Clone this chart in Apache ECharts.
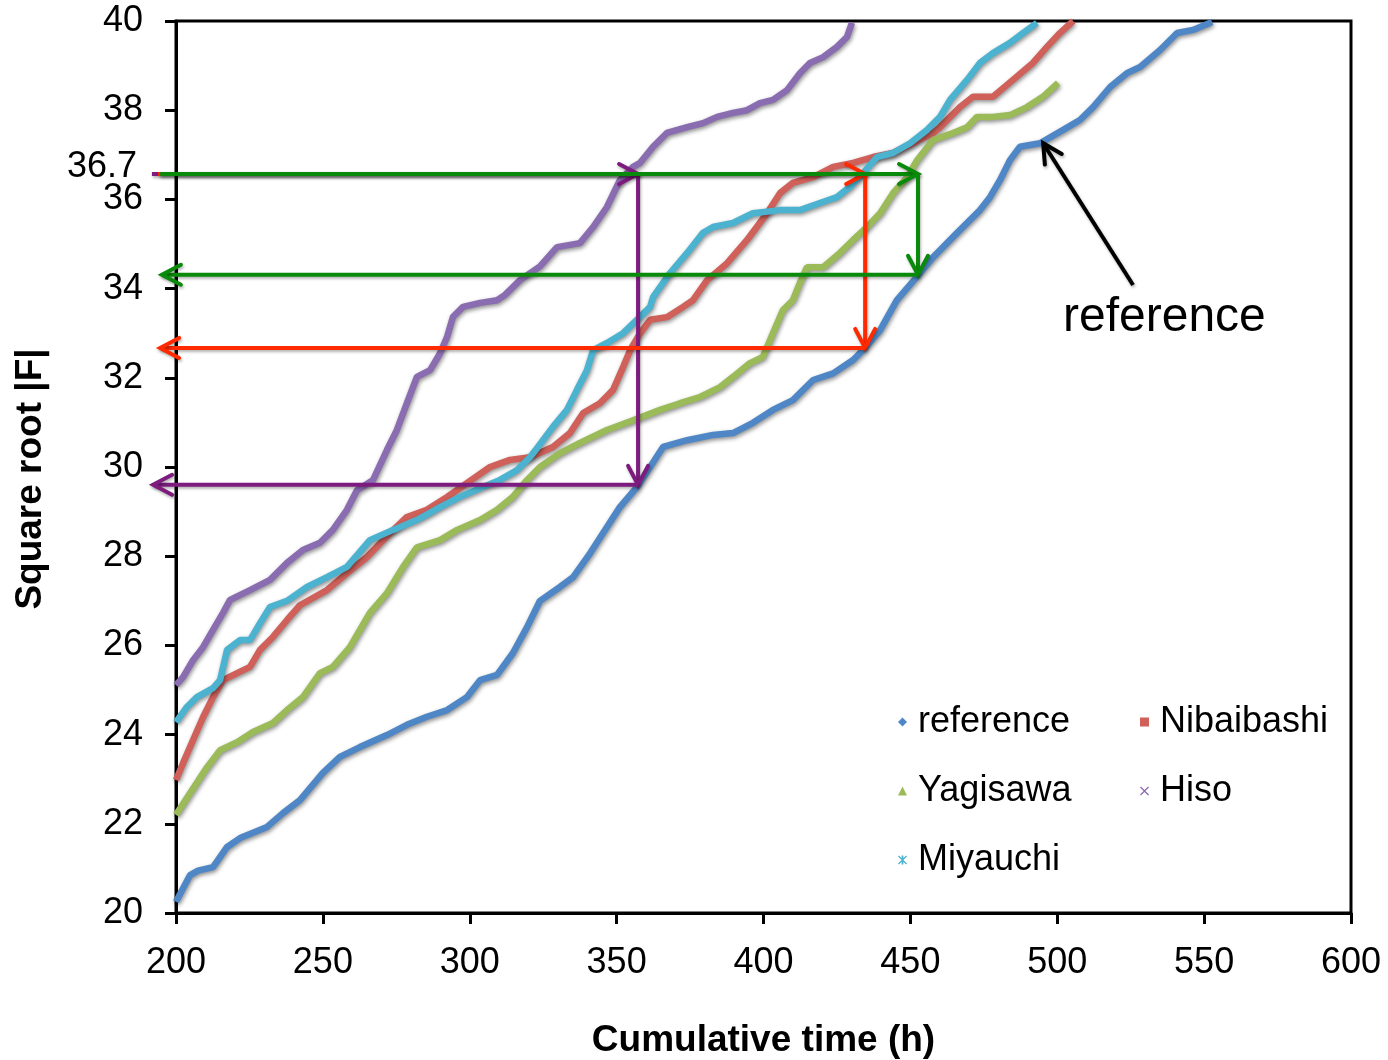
<!DOCTYPE html>
<html>
<head>
<meta charset="utf-8">
<script src="https://cdn.jsdelivr.net/npm/echarts@6/dist/echarts.min.js"></script>
<style>
html,body{margin:0;padding:0;background:#fff;}
#chart{width:1388px;height:1060px;}
</style>
</head>
<body>
<div id="chart"></div>
<script>
// ---------- data ----------
const seriesNames = ['reference', 'Nibaibashi', 'Yagisawa', 'Hiso', 'Miyauchi'];
const xTicks = [200, 250, 300, 350, 400, 450, 500, 550, 600];
const yTicks = [20, 22, 24, 26, 28, 30, 32, 34, 36, 38, 40];

const referenceData = [[200,20.25],[204.8,20.85],[207.5,20.95],[212.6,21.03],[217.4,21.48],[221.8,21.68],[231,21.93],[236.4,22.24],[242.2,22.53],[250,23.14],[255.8,23.5],[262.6,23.72],[271.8,23.99],[278.6,24.22],[285.4,24.4],[292.3,24.55],[299,24.84],[303.5,25.22],[309.3,25.34],[314.7,25.83],[319.5,26.41],[323.9,27.0],[330.7,27.31],[335.2,27.53],[341,28.07],[345.4,28.52],[351.1,29.1],[356.9,29.55],[361.4,30.0],[365.8,30.45],[374,30.6],[382.8,30.72],[389.6,30.76],[396.4,30.99],[403.2,31.28],[410,31.5],[416.9,31.95],[423.7,32.1],[430.5,32.4],[434.6,32.67],[439.7,33.07],[445.4,33.74],[453.3,34.35],[457.7,34.7],[465.9,35.25],[473.7,35.76],[477.1,36.05],[480.5,36.43],[483.9,36.88],[487.3,37.18],[494.1,37.26],[502,37.56],[507.7,37.78],[512.2,38.07],[518,38.52],[523.7,38.83],[528.2,38.97],[535,39.35],[540.8,39.73],[546.2,39.8],[552.7,39.98]];

const nibaibashiData = [[200,22.98],[202.4,23.36],[205.8,23.88],[209.2,24.39],[212.6,24.84],[216,25.22],[220.8,25.38],[225.2,25.52],[228.6,25.9],[233,26.19],[237.8,26.57],[242.2,26.9],[251.4,27.24],[258.2,27.62],[265,27.98],[272.9,28.52],[278.6,28.88],[285.4,29.04],[292.3,29.33],[299,29.64],[306.9,30.0],[313.7,30.16],[320.5,30.22],[328.3,30.45],[334.1,30.76],[338.6,31.21],[344.3,31.43],[348.8,31.73],[352.2,32.24],[354.6,32.62],[358,33.0],[361.4,33.3],[367.1,33.36],[372.6,33.59],[376,33.74],[380.8,34.19],[387.6,34.57],[394.4,35.09],[401.2,35.69],[405.6,36.14],[410,36.37],[416.9,36.5],[423.7,36.73],[430.5,36.82],[437.3,36.95],[444.1,37.04],[450.9,37.26],[457.7,37.49],[460.1,37.62],[466.9,38.07],[471.3,38.3],[478.1,38.3],[484.9,38.68],[491.7,39.06],[496.5,39.42],[500.9,39.73],[505.4,40.0]];

const yagisawaData = [[200,22.2],[204.8,22.69],[210.6,23.27],[215,23.65],[220.8,23.83],[226.2,24.06],[233,24.26],[237.8,24.55],[243.2,24.84],[249,25.38],[253.4,25.52],[259.2,25.96],[266,26.73],[271.8,27.17],[277.3,27.76],[282,28.2],[289.9,28.36],[295.7,28.59],[303.5,28.81],[309.3,29.04],[314.7,29.33],[319.5,29.71],[323.9,30.0],[330.7,30.31],[337.5,30.54],[346.7,30.83],[355.6,31.05],[364.8,31.28],[371.6,31.43],[378.4,31.57],[385.2,31.79],[389.6,32.02],[395.4,32.33],[399.8,32.47],[403.2,33.0],[406.6,33.52],[410,33.74],[412.4,34.13],[414.8,34.48],[420.3,34.48],[426,34.8],[430.5,35.09],[435.2,35.38],[439.7,35.69],[444.1,36.14],[448.9,36.5],[452.3,36.88],[457.7,37.33],[464.5,37.49],[469.3,37.62],[472.7,37.85],[478.1,37.85],[483.9,37.89],[489.7,38.07],[495.1,38.3],[500.3,38.61]];

const hisoData = [[200,25.11],[202.4,25.29],[205.8,25.67],[209.2,25.96],[212.6,26.35],[216,26.73],[218.4,27.02],[225.2,27.24],[232,27.47],[237.8,27.85],[243.2,28.14],[249,28.3],[253.4,28.59],[258.2,29.04],[261.6,29.48],[267.1,29.71],[271.8,30.38],[275.2,30.83],[278.6,31.43],[282,32.02],[286.5,32.17],[289.9,32.55],[292.3,32.92],[294.3,33.37],[297.7,33.59],[303.5,33.68],[309.3,33.74],[312,33.86],[317.1,34.19],[323.9,34.5],[329.7,34.93],[337.5,35.02],[342,35.38],[346.7,35.83],[351.1,36.43],[355.6,36.73],[358,36.82],[362.4,37.18],[367.1,37.49],[374,37.62],[379.4,37.71],[384.2,37.85],[389.6,37.94],[394.4,38.0],[398.8,38.16],[403.2,38.23],[408,38.45],[412.4,38.83],[415.8,39.06],[420.3,39.19],[425,39.42],[428.4,39.64],[430.1,39.96]];

const miyauchiData = [[200,24.28],[203.7,24.62],[207.1,24.84],[212.6,25.04],[215,25.22],[217.4,25.9],[221.8,26.12],[225.2,26.12],[228.6,26.5],[232,26.86],[237.8,27.0],[244.6,27.31],[251.4,27.53],[258.2,27.76],[266,28.36],[273.9,28.59],[282,28.81],[289.9,29.1],[296.7,29.33],[304.5,29.55],[310.3,29.71],[316.1,29.93],[320.5,30.22],[323.2,30.45],[328.3,30.9],[333.1,31.28],[336.5,31.73],[339.9,32.17],[342,32.62],[346.7,32.78],[352.2,33.0],[356.9,33.3],[361.4,33.59],[362.4,33.81],[368.2,34.35],[374,34.8],[379.4,35.25],[382.8,35.38],[389.6,35.47],[396.4,35.69],[405.6,35.76],[412.4,35.76],[419.2,35.92],[425,36.05],[429.4,36.28],[433.9,36.59],[438.6,36.95],[444.1,37.04],[449.9,37.26],[455.7,37.56],[460.1,37.85],[463.5,38.23],[469.3,38.68],[473.7,39.06],[478.1,39.28],[483.9,39.51],[488.3,39.73],[493.1,39.96]];

// annotation arrows: [x1, y1, x2, y2] in data units (arrowhead at the second point)
const hisoArrows = [[191.8,36.57,357.3,36.57],[357.3,36.57,357.3,29.6],[357.3,29.6,192.2,29.6]];
const nibaibashiArrows = [[193.9,36.57,434.6,36.57],[434.6,36.57,434.6,32.67],[434.6,32.67,194.6,32.67]];
const yagisawaArrows = [[194.6,36.57,452.6,36.57],[452.6,36.57,452.6,34.31],[452.6,34.31,195.2,34.31]];
const referencePointer = [[525.8,34.08,495.2,37.26]];
const markedValueLabel = '36.7';
const pointerLabel = 'reference';

// ---------- styles ----------
const seriesColors = {reference:'#4f87c6', Nibaibashi:'#d0605a', Yagisawa:'#9bbb59', Hiso:'#8a6cb0', Miyauchi:'#4bb2cf'};
const legendIcons = {
  reference:'diamond',
  Nibaibashi:'rect',
  Yagisawa:'triangle',
  Hiso:'path://M0,1 L1,0 L5,4 L9,0 L10,1 L6,5 L10,9 L9,10 L5,6 L1,10 L0,9 L4,5 Z',
  Miyauchi:'path://M0,1 L1,0 L5,4 L9,0 L10,1 L6,5 L10,9 L9,10 L5,6 L1,10 L0,9 L4,5 Z M4,0 L6,0 L6,10 L4,10 Z'
};
const FONT = '"Liberation Sans", Arial, Helvetica, sans-serif';

function lineSeries(name, data) {
  return {
    name: name, type: 'line', data: data,
    showSymbol: false, symbol: legendIcons[name], symbolSize: 9,
    itemStyle: {color: seriesColors[name]},
    lineStyle: {width: 6.5, color: seriesColors[name],
      shadowColor: 'rgba(0,0,0,0.45)', shadowBlur: 4, shadowOffsetX: 1, shadowOffsetY: 2},
    z: 2, animation: false
  };
}

function arrowSeries(data, color) {
  return {
    type: 'custom', data: data, clip: false, z: 5, animation: false, silent: true,
    encode: {x: [0, 2], y: [1, 3]},
    renderItem: function (params, api) {
      const p1 = api.coord([api.value(0), api.value(1)]);
      const p2 = api.coord([api.value(2), api.value(3)]);
      const dx = p2[0] - p1[0], dy = p2[1] - p1[1];
      const len = Math.hypot(dx, dy) || 1;
      const ux = dx / len, uy = dy / len;
      const L = 19, W = 10;
      const a = [p2[0] - ux * L - uy * W, p2[1] - uy * L + ux * W];
      const b = [p2[0] - ux * L + uy * W, p2[1] - uy * L - ux * W];
      const st = {stroke: color, lineWidth: 4, fill: null, lineCap: 'butt', lineJoin: 'miter',
        shadowColor: 'rgba(0,0,0,0.3)', shadowBlur: 3, shadowOffsetX: 1, shadowOffsetY: 2};
      return {type: 'group', children: [
        {type: 'line', shape: {x1: p1[0], y1: p1[1], x2: p2[0], y2: p2[1]}, style: st},
        {type: 'polyline', shape: {points: [a, p2, b]}, style: Object.assign({}, st, {lineCap: 'round'})}
      ]};
    }
  };
}

const chart = echarts.init(document.getElementById('chart'), null, {renderer: 'canvas'});

const axisCommon = {
  type: 'value',
  axisLine: {show: true, lineStyle: {color: '#000', width: 3}},
  axisTick: {show: true, inside: false, length: 11, lineStyle: {color: '#000', width: 3}},
  splitLine: {show: false},
  nameTextStyle: {fontFamily: FONT, fontSize: 37, fontWeight: 'bold', color: '#000'}
};

const option = {
  backgroundColor: '#fff',
  animation: false,
  grid: {left: 176, right: 37, top: 21, bottom: 147, show: true, borderColor: '#000', borderWidth: 3,
    containLabel: false, outerBoundsMode: 'none'},
  xAxis: Object.assign({}, axisCommon, {
    min: xTicks[0], max: xTicks[xTicks.length - 1], interval: xTicks[1] - xTicks[0],
    name: 'Cumulative time (h)', nameLocation: 'middle', nameGap: 109,
    axisLabel: {fontFamily: FONT, fontSize: 36, color: '#000', margin: 32}
  }),
  yAxis: Object.assign({}, axisCommon, {
    min: yTicks[0], max: yTicks[yTicks.length - 1], interval: yTicks[1] - yTicks[0],
    name: 'Square root |F|', nameLocation: 'middle', nameGap: 127,
    nameTextStyle: Object.assign({}, axisCommon.nameTextStyle, {padding: [0, 24, 0, 0]}),
    axisLabel: {fontFamily: FONT, fontSize: 36, color: '#000', margin: 33, padding: [10, 0, 0, 0]}
  }),
  legend: [
    {
      orient: 'vertical', left: 893, top: 697, itemWidth: 9, itemHeight: 9, itemGap: 29,
      data: ['reference', 'Yagisawa', 'Miyauchi'].map(n => ({name: n, icon: legendIcons[n]})),
      textStyle: {fontFamily: FONT, fontSize: 36, color: '#000', lineHeight: 40, padding: [0, 0, 0, 6]},
      selectedMode: false
    },
    {
      orient: 'vertical', left: 1135, top: 697, itemWidth: 9, itemHeight: 9, itemGap: 29,
      data: ['Nibaibashi', 'Hiso'].map(n => ({name: n, icon: legendIcons[n]})),
      textStyle: {fontFamily: FONT, fontSize: 36, color: '#000', lineHeight: 40, padding: [0, 0, 0, 6]},
      selectedMode: false
    }
  ],
  graphic: [
    {type: 'text', left: 67, top: 149, style: {text: markedValueLabel, font: '36px ' + FONT, fill: '#000'}},
    {type: 'text', left: 1063, top: 294, style: {text: pointerLabel, font: '48px ' + FONT, fill: '#000'}}
  ],
  series: [
    lineSeries('reference', referenceData),
    lineSeries('Nibaibashi', nibaibashiData),
    lineSeries('Yagisawa', yagisawaData),
    lineSeries('Hiso', hisoData),
    lineSeries('Miyauchi', miyauchiData),
    arrowSeries(hisoArrows, '#7d1b7e'),
    arrowSeries(nibaibashiArrows, '#ff2a00'),
    arrowSeries(yagisawaArrows, '#0a8a0a'),
    arrowSeries(referencePointer, '#000')
  ]
};
chart.setOption(option);
</script>
</body>
</html>
